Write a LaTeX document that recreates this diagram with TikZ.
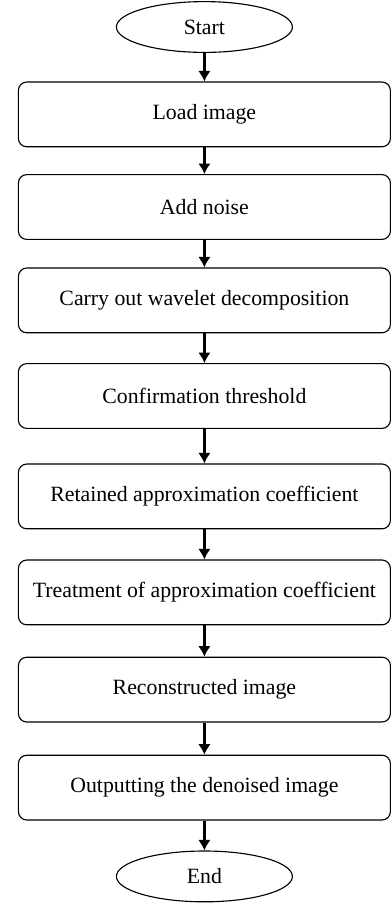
\documentclass[tikz,border=0pt]{standalone}
\usepackage{fontspec}
\setmainfont{Liberation Serif}
\usepackage{tikz}
\usetikzlibrary{arrows.meta,shapes.geometric}
\tikzstyle{arrow}     = [line width=2.2pt,-{Latex[length=7.5pt,width=9pt]}]
\tikzstyle{stepbox}   = [draw,line width=0.8pt,rounded corners=6pt,minimum width=9.3cm,minimum height=1.62cm,font=\fontsize{15.5}{18}\selectfont]
\tikzstyle{terminal}  = [draw,line width=0.8pt,ellipse,minimum width=4.4cm,minimum height=1.27cm,inner sep=0pt,font=\fontsize{15.5}{18}\selectfont]

\begin{document}
\begin{tikzpicture}
          \useasboundingbox(0, 0) rectangle (9.775, -22.675);
          \node[terminal](start)at(5.11, -0.675){Start};
          \node[stepbox](load)at(5.11, -2.86){Load image};
          \node[stepbox](noise)at(5.11, -5.175){Add noise};
          \node[stepbox](wave)at(5.11, -7.51){Carry out wavelet decomposition};
          \node[stepbox](thres)at(5.11, -9.9){Confirmation threshold};
          \node[stepbox](keep)at(5.11, -12.41){Retained approximation coefficient};
          \node[stepbox](treat)at(5.11, -14.81){Treatment of approximation coefficient};
          \node[stepbox](recon)at(5.11, -17.24){Reconstructed image};
          \node[stepbox](out)at(5.11, -19.69){Outputting the denoised image};
          \node[terminal](end)at(5.11, -21.91){End};
          \draw[arrow](start)--(load);
          \draw[arrow](load)--(noise);
          \draw[arrow](noise)--(wave);
          \draw[arrow](wave)--(thres);
          \draw[arrow](thres)--(keep);
          \draw[arrow](keep)--(treat);
          \draw[arrow](treat)--(recon);
          \draw[arrow](recon)--(out);
          \draw[arrow](out)--(end);
      \end{tikzpicture}
\end{document}
